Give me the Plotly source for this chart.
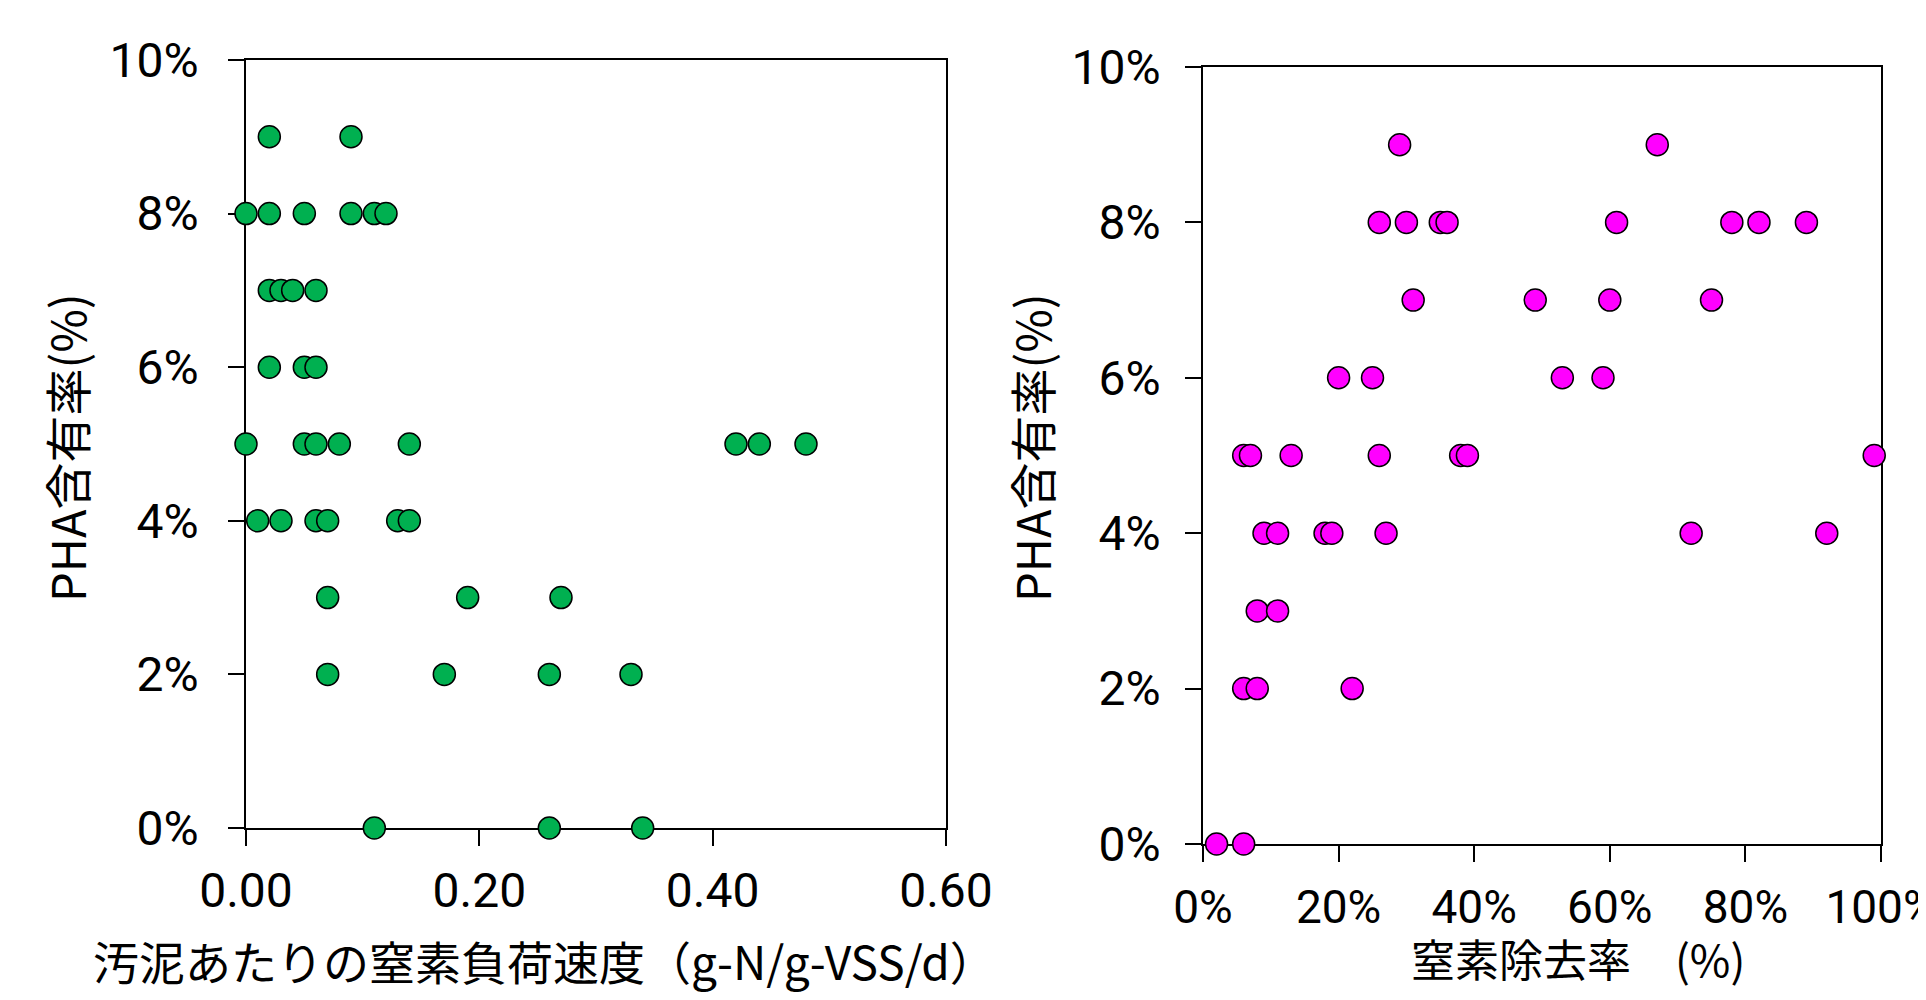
import plotly.graph_objects as go

# Left chart: nitrogen loading rate per sludge (g-N/g-VSS/d) vs PHA content
load_rate = [0.02, 0.09,
             0.00, 0.02, 0.05, 0.09, 0.11, 0.12,
             0.02, 0.03, 0.04, 0.06,
             0.02, 0.05, 0.06,
             0.00, 0.05, 0.06, 0.08, 0.14, 0.42, 0.44, 0.48,
             0.01, 0.03, 0.06, 0.07, 0.13, 0.14,
             0.07, 0.19, 0.27,
             0.07, 0.17, 0.26, 0.33,
             0.11, 0.26, 0.34]
pha_left = [0.09, 0.09,
            0.08, 0.08, 0.08, 0.08, 0.08, 0.08,
            0.07, 0.07, 0.07, 0.07,
            0.06, 0.06, 0.06,
            0.05, 0.05, 0.05, 0.05, 0.05, 0.05, 0.05, 0.05,
            0.04, 0.04, 0.04, 0.04, 0.04, 0.04,
            0.03, 0.03, 0.03,
            0.02, 0.02, 0.02, 0.02,
            0.00, 0.00, 0.00]

# Right chart: nitrogen removal rate vs PHA content
removal_rate = [0.29, 0.67,
                0.26, 0.30, 0.35, 0.36, 0.61, 0.78, 0.82, 0.89,
                0.31, 0.49, 0.60, 0.75,
                0.20, 0.25, 0.53, 0.59,
                0.06, 0.07, 0.13, 0.26, 0.38, 0.39, 0.99,
                0.09, 0.11, 0.18, 0.19, 0.27, 0.72, 0.92,
                0.08, 0.11,
                0.06, 0.08, 0.22,
                0.02, 0.06]
pha_right = [0.09, 0.09,
             0.08, 0.08, 0.08, 0.08, 0.08, 0.08, 0.08, 0.08,
             0.07, 0.07, 0.07, 0.07,
             0.06, 0.06, 0.06, 0.06,
             0.05, 0.05, 0.05, 0.05, 0.05, 0.05, 0.05,
             0.04, 0.04, 0.04, 0.04, 0.04, 0.04, 0.04,
             0.03, 0.03,
             0.02, 0.02, 0.02,
             0.00, 0.00]

y_tickvals = [0, 0.02, 0.04, 0.06, 0.08, 0.10]
left_x_tickvals = [0, 0.2, 0.4, 0.6]
right_x_tickvals = [0, 0.2, 0.4, 0.6, 0.8, 1.0]

left_xtitle = "汚泥あたりの窒素負荷速度（g-N/g-VSS/d）"
right_xtitle = "窒素除去率　(%)"
ytitle = "PHA含有率(%)"

FONT = "Noto Sans CJK JP, Noto Sans, sans-serif"
TICKFONT = "Roboto, Noto Sans, sans-serif"
# page body has an 8 px margin; size the figure so it fits the 1926x1000 window
OFF = 8
W, H = 1926 - 2 * OFF, 1000 - 2 * OFF

fig = go.Figure()
fig.add_trace(go.Scatter(
    x=load_rate, y=pha_left, mode="markers", xaxis="x", yaxis="y",
    marker=dict(size=22, color="#00B050", line=dict(color="black", width=1.5)),
    cliponaxis=False, showlegend=False, hoverinfo="x+y"))
fig.add_trace(go.Scatter(
    x=removal_rate, y=pha_right, mode="markers", xaxis="x2", yaxis="y2",
    marker=dict(size=22, color="#FF00FF", line=dict(color="black", width=1.5)),
    cliponaxis=False, showlegend=False, hoverinfo="x+y"))

axis_common = dict(showgrid=False, zeroline=False, showline=True, linecolor="black",
                   linewidth=1.5, mirror=True, ticks="outside", ticklen=16,
                   tickwidth=1.5, tickcolor="black", layer="below traces",
                   automargin=False, ticklabeloverflow="allow")

def px_x(p):
    return (p - OFF) / W

def px_y(p):
    return 1 - (p - OFF) / H

fig.update_layout(
    template="none",
    width=W, height=H,
    margin=dict(l=0, r=0, t=0, b=0, pad=0),
    paper_bgcolor="white", plot_bgcolor="white",
    font=dict(family=FONT, color="black"),
    xaxis=dict(domain=[px_x(246), px_x(946)], anchor="y", range=[0, 0.6],
               tickvals=left_x_tickvals, tickformat=".2f",
               tickfont=dict(size=48, family=TICKFONT), ticklabelstandoff=4, **axis_common),
    yaxis=dict(domain=[px_y(828), px_y(60)], anchor="x", range=[0, 0.10],
               tickvals=y_tickvals, tickformat=".0%",
               tickfont=dict(size=48, family=TICKFONT), ticklabelstandoff=20, **axis_common),
    xaxis2=dict(domain=[px_x(1203), px_x(1881)], anchor="y2", range=[0, 1.0],
                tickvals=right_x_tickvals, tickformat=".0%",
                tickfont=dict(size=46, family=TICKFONT), ticklabelstandoff=6, **axis_common),
    yaxis2=dict(domain=[px_y(844), px_y(67)], anchor="x2", range=[0, 0.10],
                tickvals=y_tickvals, tickformat=".0%",
                tickfont=dict(size=48, family=TICKFONT), ticklabelstandoff=15, **axis_common),
    annotations=[
        dict(text=ytitle, x=px_x(65), y=px_y(448), xref="paper", yref="paper",
             textangle=-90, showarrow=False, font=dict(size=47, family=FONT),
             xanchor="center", yanchor="middle"),
        dict(text=ytitle, x=px_x(1030), y=px_y(448), xref="paper", yref="paper",
             textangle=-90, showarrow=False, font=dict(size=47, family=FONT),
             xanchor="center", yanchor="middle"),
        dict(text=left_xtitle, x=px_x(544), y=px_y(960), xref="paper", yref="paper",
             showarrow=False, font=dict(size=46, family=FONT),
             xanchor="center", yanchor="middle"),
        dict(text=right_xtitle, x=px_x(1578), y=px_y(958), xref="paper", yref="paper",
             showarrow=False, font=dict(size=44, family=FONT),
             xanchor="center", yanchor="middle"),
    ],
)

fig.write_html("out.html")
